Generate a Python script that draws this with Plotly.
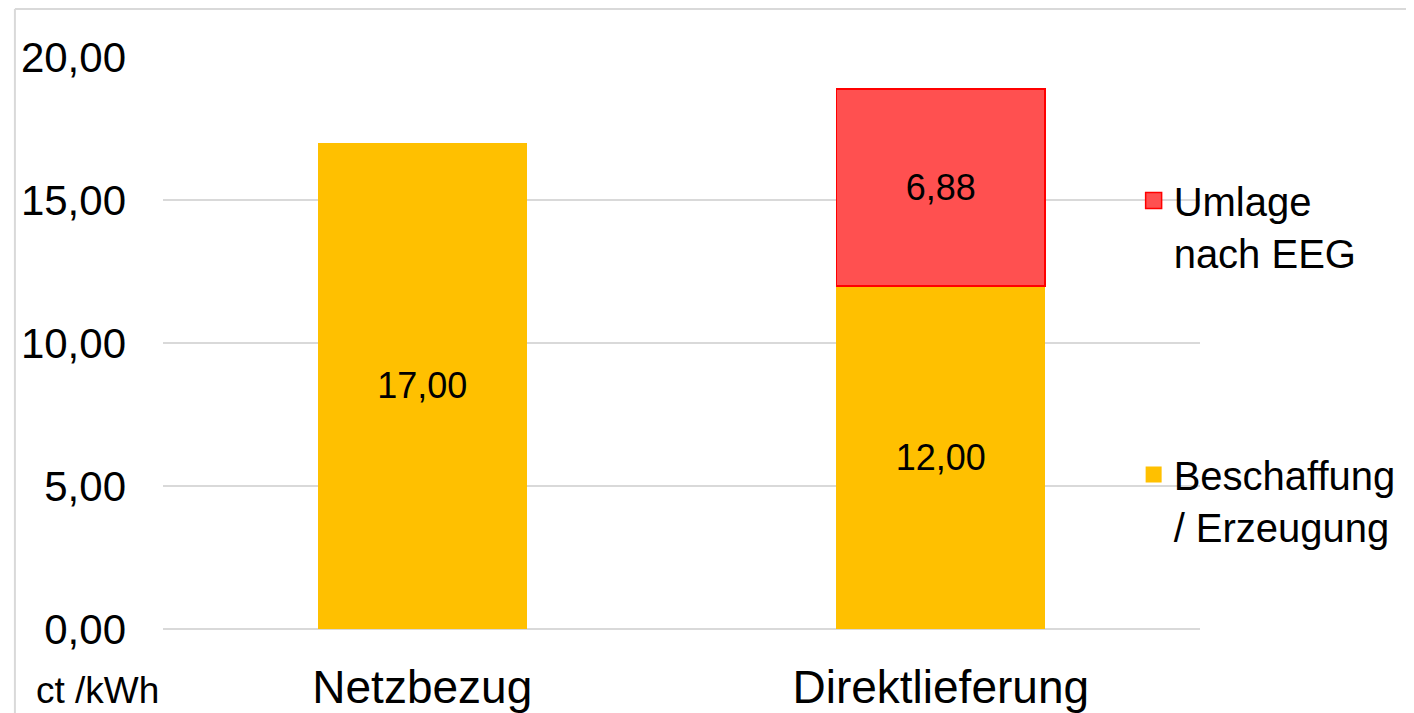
import plotly.graph_objects as go

categories = ["Netzbezug", "Direktlieferung"]
beschaffung = [17.00, 12.00]
umlage = [None, 6.88]
y_ticks = [0, 5, 10, 15, 20]

FONT = "Arial, Liberation Sans, sans-serif"
YELLOW = "#FFC000"
RED_FILL = "#FF5050"
RED_LINE = "#FF0000"

fig = go.Figure()
fig.add_trace(go.Bar(
    x=categories, y=beschaffung, name="Beschaffung<br>/ Erzeugung",
    marker=dict(color=YELLOW, line=dict(width=0)),
    texttemplate="%{y:.2f}", textposition="inside", insidetextanchor="middle",
    textfont=dict(size=36, color="black", family=FONT),
    showlegend=False,
))
fig.add_trace(go.Bar(
    x=categories, y=umlage, name="Umlage<br>nach EEG",
    marker=dict(color=RED_FILL, line=dict(color=RED_LINE, width=1.5)),
    texttemplate="%{y:.2f}", textposition="inside", insidetextanchor="middle",
    textfont=dict(size=36, color="black", family=FONT),
    showlegend=False,
))
# legend entries (larger square markers)
fig.add_trace(go.Scatter(
    x=[None], y=[None], mode="markers", name="Umlage<br>nach EEG",
    marker=dict(symbol="square", size=16, color=RED_FILL, line=dict(color=RED_LINE, width=1.5)),
    showlegend=True, legend="legend", hoverinfo="skip",
))
fig.add_trace(go.Scatter(
    x=[None], y=[None], mode="markers", name="Beschaffung<br>/ Erzeugung",
    marker=dict(symbol="square", size=16, color=YELLOW, line=dict(width=0)),
    showlegend=True, legend="legend2", hoverinfo="skip",
))

fig.update_layout(
    width=1406, height=705,
    barmode="stack", bargap=0.597,
    separators=",.",
    showlegend=True,
    paper_bgcolor="white", plot_bgcolor="white",
    margin=dict(l=155, r=214, t=49, b=84, autoexpand=False),
    font=dict(family=FONT, color="black"),
    legend=dict(x=0.936, y=0.806, xanchor="left", yanchor="top",
                font=dict(size=40, family=FONT), valign="top", itemsizing="trace",
                bgcolor="rgba(0,0,0,0)"),
    legend2=dict(x=0.936, y=0.327, xanchor="left", yanchor="top",
                 font=dict(size=40, family=FONT), valign="top", itemsizing="trace",
                 bgcolor="rgba(0,0,0,0)"),
    xaxis=dict(showgrid=False, showline=False, zeroline=False, automargin=False,
               tickfont=dict(size=46, family=FONT), ticks="", ticklabelstandoff=27),
    yaxis=dict(range=[0, 20], tickvals=y_ticks, tickformat=".2f", automargin=False,
               showgrid=True, gridcolor="#D9D9D9", gridwidth=1.5,
               zeroline=True, zerolinecolor="#D9D9D9", zerolinewidth=1.5,
               showline=False, ticks="", ticklabelstandoff=36,
               tickfont=dict(size=42, family=FONT)),
    annotations=[dict(text="ct /kWh", xref="paper", yref="paper",
                      x=-0.063, y=-0.107, xanchor="center", yanchor="middle",
                      showarrow=False, font=dict(size=37, family=FONT))],
    shapes=[
        dict(type="line", xref="paper", yref="paper", x0=-0.1428, x1=1.25,
             y0=1.0839, y1=1.0839, line=dict(color="#D9D9D9", width=2)),
        dict(type="line", xref="paper", yref="paper", x0=-0.1428, x1=-0.1428,
             y0=1.0839, y1=-0.16, line=dict(color="#D9D9D9", width=2)),
    ],
)

fig.write_html("out.html")
